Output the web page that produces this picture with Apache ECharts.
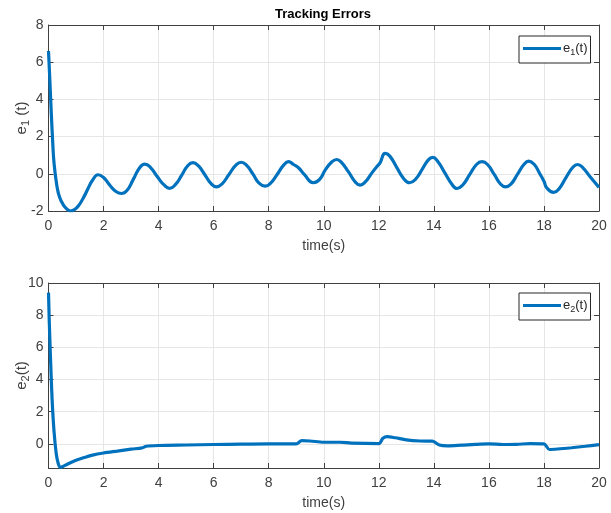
<!DOCTYPE html>
<html>
<head>
<meta charset="utf-8">
<script src="https://cdn.jsdelivr.net/npm/echarts@6/dist/echarts.min.js"></script>
<style>
  html, body { margin: 0; padding: 0; background: #fff; }
  #chart { width: 611px; height: 513px; }
</style>
</head>
<body>
<div id="chart"></div>
<script>
// Time ticks shared by both panels
const timeTicks = [0, 2, 4, 6, 8, 10, 12, 14, 16, 18, 20];

// e1(t): tracking error of the first state, [time, value]
const e1Time = [0, 0.05, 0.1, 0.15, 0.2, 0.3, 0.4, 0.55, 0.7, 0.8, 0.95, 1.1, 1.3, 1.45, 1.6, 1.8,
  2.0, 2.22, 2.45, 2.65, 2.85, 3.08, 3.3, 3.5, 3.7, 3.95, 4.2, 4.4, 4.6, 4.83, 5.05, 5.25, 5.45,
  5.68, 5.9, 6.1, 6.3, 6.55, 6.8, 7.0, 7.2, 7.43, 7.65, 7.87, 8.07, 8.3, 8.55, 8.72, 8.9, 9.1,
  9.3, 9.62, 9.85, 10.05, 10.3, 10.47, 10.65, 10.9, 11.15, 11.32, 11.5, 11.75, 11.98, 12.05,
  12.23, 12.4, 12.65, 12.9, 13.12, 13.33, 13.58, 13.8, 13.96, 14.15, 14.4, 14.65, 14.84, 15.05,
  15.3, 15.55, 15.75, 15.95, 16.2, 16.42, 16.6, 16.8, 17.03, 17.27, 17.45, 17.65, 17.85, 18.0,
  18.1, 18.35, 18.55, 18.8, 19.05, 19.22, 19.4, 19.7, 20.0];
const e1Values = [6.6, 5.0, 3.3, 1.8, 0.6, -0.6, -1.25, -1.7, -1.93, -2.0, -1.92, -1.7, -1.2, -0.75, -0.35, -0.05,
  -0.2, -0.6, -0.95, -1.06, -0.9, -0.3, 0.3, 0.52, 0.35, -0.15, -0.6, -0.78, -0.6, -0.1, 0.42, 0.6, 0.42,
  -0.05, -0.52, -0.7, -0.55, -0.05, 0.45, 0.62, 0.45, -0.02, -0.5, -0.66, -0.5, -0.05, 0.48, 0.65, 0.5, 0.3,
  -0.05, -0.48, -0.3, 0.2, 0.65, 0.77, 0.6, 0.1, -0.45, -0.61, -0.45, 0.05, 0.47, 0.6,
  1.1, 0.95, 0.35, -0.25, -0.48, -0.3, 0.25, 0.75, 0.88, 0.65, 0.05, -0.55, -0.79, -0.6,
  -0.05, 0.5, 0.65, 0.5, -0.05, -0.55, -0.7, -0.55, -0.05, 0.5, 0.68, 0.5, 0.0, -0.4,
  -0.75, -1.0, -0.8, -0.2, 0.35, 0.5, 0.35, -0.2, -0.73];

// e2(t): tracking error of the second state, [time, value]
const e2Time = [0, 0.03, 0.08, 0.13, 0.2, 0.28, 0.35, 0.42, 0.5, 0.7, 1.0, 1.3, 1.6, 2.0, 2.5, 3.0,
  3.4, 3.55, 4.0, 5.0, 6.0, 7.0, 8.0, 9.0, 9.2, 9.5, 10.0, 10.6, 11.0, 12.0, 12.15, 12.3, 12.6,
  13.0, 13.5, 13.95, 14.2, 14.5, 15.0, 15.5, 16.0, 16.5, 17.0, 17.5, 18.0, 18.2, 18.5, 19.0, 19.5, 20.0];
const e2Values = [9.4, 7.5, 5.0, 2.8, 0.8, -0.6, -1.2, -1.45, -1.42, -1.25, -1.02, -0.85, -0.7, -0.57, -0.45, -0.33,
  -0.25, -0.15, -0.1, -0.07, -0.04, -0.02, 0.0, 0.0, 0.2, 0.18, 0.1, 0.1, 0.05, 0.02, 0.35, 0.45, 0.38,
  0.25, 0.18, 0.17, -0.07, -0.12, -0.08, -0.03, 0.0, -0.04, -0.03, 0.02, 0.0, -0.35, -0.32, -0.24, -0.15, -0.05];

const e1Ticks = [-2, 0, 2, 4, 6, 8];
const e2Ticks = [0, 2, 4, 6, 8, 10];
const e2Min = -1.5;

const FONT = "'Liberation Sans', Arial, sans-serif";
const LINE_COLOR = '#0072BD';
const AXIS_COLOR = '#404040';
const TEXT_COLOR = '#404040';
const GRID_COLOR = '#e6e6e6';

const pairs = (xs, ys) => xs.map((x, i) => [x, ys[i]]);

const subRich = {
  n: { fontFamily: FONT, fontSize: 15, color: TEXT_COLOR, lineHeight: 18 },
  s: { fontFamily: FONT, fontSize: 11, color: TEXT_COLOR, padding: [9, 0, 0, 0] }
};
const legendRich = {
  n: { fontFamily: FONT, fontSize: 13, color: '#262626', lineHeight: 16 },
  s: { fontFamily: FONT, fontSize: 9, color: '#262626', padding: [8, 0, 0, 0] }
};

function xAxes(gridIndex) {
  const common = {
    type: 'value', gridIndex,
    min: timeTicks[0], max: timeTicks[timeTicks.length - 1], interval: 2,
    axisLine: { show: true, onZero: false, lineStyle: { color: AXIS_COLOR, width: 1 } },
    axisTick: { show: true, inside: true, length: 5, lineStyle: { color: AXIS_COLOR } }
  };
  return [
    Object.assign({}, common, {
      position: 'bottom',
      name: 'time(s)', nameLocation: 'middle', nameGap: 28, nameMoveOverlap: false,
      nameTextStyle: { fontFamily: FONT, fontSize: 14, color: TEXT_COLOR },
      axisLabel: { fontFamily: FONT, fontSize: 14, color: TEXT_COLOR, margin: 8 },
      splitLine: { show: true, lineStyle: { color: GRID_COLOR, width: 1 } }
    }),
    Object.assign({}, common, {
      position: 'top',
      axisLabel: { show: false },
      splitLine: { show: false }
    })
  ];
}

function yAxes(gridIndex, ticks, min, label) {
  const max = ticks[ticks.length - 1];
  const keep = v => ticks.some(t => Math.abs(t - v) < 1e-9);
  const common = {
    type: 'value', gridIndex, min, max, splitNumber: 5,
    axisLine: { show: true, onZero: false, lineStyle: { color: AXIS_COLOR, width: 1 } },
    axisTick: { show: true, inside: true, length: 5, lineStyle: { color: AXIS_COLOR } }
  };
  return [
    Object.assign({}, common, {
      position: 'left',
      name: label, nameLocation: 'middle', nameGap: 17, nameRotate: 90, nameMoveOverlap: false,
      nameTextStyle: { rich: subRich },
      axisLabel: {
        fontFamily: FONT, fontSize: 14, color: TEXT_COLOR, margin: 5,
        formatter: v => (keep(v) ? String(v) : '')
      },
      splitLine: { show: true, lineStyle: { color: GRID_COLOR, width: 1 } }
    }),
    Object.assign({}, common, {
      position: 'right',
      axisLabel: { show: false },
      splitLine: { show: false }
    })
  ];
}

const legendBase = {
  left: 519,
  orient: 'horizontal',
  backgroundColor: '#ffffff',
  borderColor: '#262626',
  borderWidth: 1,
  borderRadius: 0,
  padding: [6, 3, 6, 4],
  itemWidth: 38,
  itemHeight: 14,
  itemGap: 2,
  icon: 'path://M0,5.5 L38,5.5 L38,8.5 L0,8.5 Z',
  textStyle: { rich: legendRich, padding: [0, 0, 0, -3] },
  formatter: name => name === 'e1' ? '{n|e}{s|1}{n|(t)}' : '{n|e}{s|2}{n|(t)}'
};

const chart = echarts.init(document.getElementById('chart'), null, { renderer: 'canvas' });
chart.setOption({
  animation: false,
  backgroundColor: '#ffffff',
  title: {
    text: 'Tracking Errors',
    left: 275, top: 8, padding: 0,
    textStyle: { fontFamily: FONT, fontSize: 13, fontWeight: 'bold', color: '#000' }
  },
  legend: [
    Object.assign({}, legendBase, { top: 36, data: ['e1'] }),
    Object.assign({}, legendBase, { top: 293, data: ['e2'] })
  ],
  grid: [
    { left: 48.5, right: 12, top: 25, height: 186, containLabel: false, outerBoundsMode: 'none' },
    { left: 48.5, right: 12, top: 283, height: 185, containLabel: false, outerBoundsMode: 'none' }
  ],
  xAxis: [...xAxes(0), ...xAxes(1)],
  yAxis: [
    ...yAxes(0, e1Ticks, e1Ticks[0], '{n|e}{s|1}{n| (t)}'),
    ...yAxes(1, e2Ticks, e2Min, '{n|e}{s|2}{n|(t)}')
  ],
  series: [
    {
      name: 'e1', type: 'line', xAxisIndex: 0, yAxisIndex: 0,
      data: pairs(e1Time, e1Values),
      smooth: 0.5, showSymbol: false, symbol: 'none',
      lineStyle: { color: LINE_COLOR, width: 3.2 }, itemStyle: { color: LINE_COLOR }
    },
    {
      name: 'e2', type: 'line', xAxisIndex: 2, yAxisIndex: 2,
      data: pairs(e2Time, e2Values),
      smooth: 0.3, showSymbol: false, symbol: 'none',
      lineStyle: { color: LINE_COLOR, width: 3.2 }, itemStyle: { color: LINE_COLOR }
    }
  ]
});
</script>
</body>
</html>
